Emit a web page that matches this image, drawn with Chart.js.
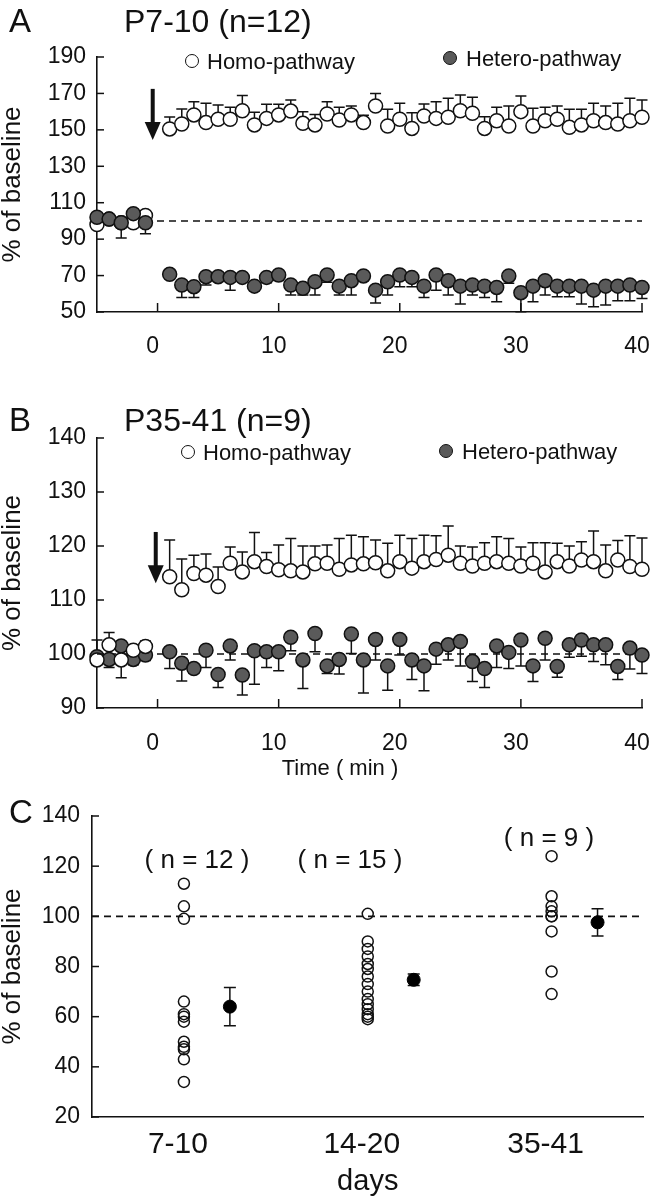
<!DOCTYPE html>
<html><head><meta charset="utf-8">
<script src="https://cdn.jsdelivr.net/npm/chart.js@4.4.1/dist/chart.umd.min.js"></script>
<style>
html,body{margin:0;padding:0;background:#fff;}
#wrap{position:relative;width:651px;height:1199px;overflow:hidden;font-family:'Liberation Sans',Arial,sans-serif;color:#111;background:#fff;}
canvas{position:absolute;left:0;}
.t{position:absolute;white-space:nowrap;line-height:1;transform:translateY(-50%);}
.tc{position:absolute;white-space:nowrap;line-height:1;transform:translate(-50%,-50%);}
.dot{position:absolute;width:12px;height:12px;border-radius:50%;border:1.5px solid #111;transform:translate(-50%,-50%);background:#fff;}
.dot.f{background:#5a5a5a;}
</style></head><body>
<div id="wrap">
<canvas id="cA" style="top:0" width="651" height="370"></canvas>
<canvas id="cB" style="top:380px" width="651" height="410"></canvas>
<canvas id="cC" style="top:790px" width="651" height="409"></canvas>

<div class="t" style="left:9px;top:20px;font-size:33px">A</div>
<div class="t" style="left:124px;top:21px;font-size:32px">P7-10 (n=12)</div>
<div class="dot" style="left:192px;top:61px"></div>
<div class="t" style="left:207px;top:62px;font-size:22px">Homo-pathway</div>
<div class="dot f" style="left:450px;top:58px"></div>
<div class="t" style="left:466px;top:59px;font-size:22px">Hetero-pathway</div>

<div class="t" style="left:9px;top:419px;font-size:33px">B</div>
<div class="t" style="left:124px;top:420px;font-size:32px">P35-41 (n=9)</div>
<div class="dot" style="left:188px;top:452px"></div>
<div class="t" style="left:203px;top:453px;font-size:22px">Homo-pathway</div>
<div class="dot f" style="left:446px;top:451px"></div>
<div class="t" style="left:462px;top:452px;font-size:22px">Hetero-pathway</div>
<div class="tc" style="left:340px;top:768px;font-size:22px">Time ( min )</div>

<div class="t" style="left:9px;top:811px;font-size:33px">C</div>
<div class="tc" style="left:197px;top:859px;font-size:26px">( n = 12 )</div>
<div class="tc" style="left:350px;top:859px;font-size:26px">( n = 15 )</div>
<div class="tc" style="left:549px;top:837px;font-size:26px">( n = 9 )</div>
</div>

<script>
// ---------------- DATA ----------------
// Panel A (P7-10, n=12): time points (min) and % of baseline
const minutesA = [-5,-4,-3,-2,-1,1,2,3,4,5,6,7,8,9,10,11,12,13,14,15,16,17,18,19,20,21,22,23,24,25,26,27,28,29,30,31,32,33,34,35,36,37,38,39,40];
const homoA = [98,101,99,99,103,
  150.5,153.2,158.2,154,155.8,155.8,160.5,152.7,156.3,158.2,160.3,153.6,152.7,158.7,155.4,158.2,154,163.1,152.1,155.8,
  150.8,157.6,156.3,156.9,160.5,159.1,150.8,155,152.1,160,152.1,155,155.8,151.4,152.7,155,154,153.2,155,156.9];
const homoA_sem = [1.5,2,2,1.5,1.5,
  6.5,8.2,7.2,10.6,7.8,6.6,8.3,6.9,7.7,5.8,6.1,6.4,5.8,6.8,7,4.9,4,6.9,9.2,8.8,
  8.6,6.6,9.2,10.4,8.6,8.8,6.4,7.4,11,8.6,9.7,7.4,7.3,9.9,8.6,9.6,9.1,11.4,12.3,9.5];
const heteroA = [102,101,99,104,99,
  70.7,64.8,63.9,69.4,69.4,69,69,64.2,69,70.3,64.8,63,66.6,70.3,64.2,67.2,69.8,62,66.6,70.3,
  69,64.2,70.3,67.2,64.2,64.8,64.2,63.5,69.8,60.6,64.2,67.2,64.2,64.2,64.2,62,64.2,64.2,64.8,63.5];
const heteroA_sem = [2,2,8.4,2,6,
  2,6.8,5.9,4.6,2,7,2,2.5,3,3,5.5,3.7,7.3,4,4.9,7.9,2.5,7,7.3,6.4,
  5.1,6.2,8.3,7.9,9.8,5.5,6.2,7.9,4,10.5,8.6,7.9,5.8,5.8,9.8,9.1,10.4,8,8.6,6.1];
const xTicksA = [0,10,20,30,40];
const yTicksA = [50,70,90,110,130,150,170,190];

// Panel B (P35-41, n=9)
const minutesB = [-5,-4,-3,-2,-1,1,2,3,4,5,6,7,8,9,10,11,12,13,14,15,16,17,18,19,20,21,22,23,24,25,26,27,28,29,30,31,32,33,34,35,36,37,38,39,40];
const homoB = [98.9,101.7,98.9,100.7,101.4,
  114.3,111.9,114.9,114.6,112.5,116.8,115.2,117.1,116.2,115.6,115.4,115.2,116.7,116.8,115.7,116.5,116.7,116.9,115.4,117.1,
  115.9,117.1,117.5,118.3,116.8,116.3,116.8,117.1,116.8,116.3,116.8,115.2,117.1,116.3,117.4,117.1,115.4,117.4,116.2,115.7];
const homoB_sem = [3.7,2.3,1,1,1,
  6.8,5.7,3.4,3.9,3.6,3,3.7,5.4,2.6,4.6,6,4.8,3.3,3.4,5.7,5.5,5,4.2,5.1,4.9,
  5.5,4.9,4.4,5.4,3.2,3.5,3.8,4.6,4.6,3.5,3.8,5.4,3.4,3.7,3.4,5.7,4.8,3.6,5.7,5.8];
const heteroB = [99.5,99,101.5,99,99.8,
  100.4,98.3,97.3,100.7,96.2,101.5,96.1,100.6,100.4,100.4,103.1,98.9,103.8,97.8,99,103.7,98.9,102.7,97.8,102.7,
  98.9,97.8,100.9,101.7,102.3,98.6,97.3,101.5,100.3,102.6,97.8,102.9,97.7,101.7,102.6,101.7,101.7,97.7,101.1,99.8];
const heteroB_sem = [1.5,1.5,5.9,1,1,
  3.1,3.3,0.8,3.2,2.4,2.6,3.7,6.2,2.9,3.5,2.5,5.3,3.4,1.4,2.7,3.6,6.1,3.8,4.5,2.9,
  3.6,4.6,2.8,2.8,4.5,3.7,3.5,4,3,4.8,2.9,4,2,2.3,3,3.1,3.7,2.4,3.9,3.4];
const xTicksB = [0,10,20,30,40];
const yTicksB = [90,100,110,120,130,140];

// Panel C: individual cells and mean +/- SEM per age group
const groups = ['7-10','14-20','35-41'];
const cells7_10  = [113,104,99,66,61,60,58,50,48,47,43,34];
const cells14_20 = [101,90,87,84,81,79,76,73,70,67,65,63,61,60,59];
const cells35_41 = [124,108,104,102,100,100,94,78,69];
const groupMeans = [64,74.7,97.6];
const groupSems  = [7.6,2.3,5.4];
const yTicksC = [20,40,60,80,100,120,140];

// ---------------- RENDERING ----------------
const FONT = "'Liberation Sans', Arial, sans-serif";
const INK = '#111';
const HETERO_FILL = '#5a5a5a';

Chart.register({
  id: 'errorBars',
  defaults: { sets: [] },
  beforeDatasetsDraw(chart, args, opts) {
    const {ctx, scales: {x, y}} = chart;
    ctx.save();
    ctx.strokeStyle = INK; ctx.lineWidth = 1.5;
    (opts.sets || []).forEach(s => {
      s.xs.forEach((xv, i) => {
        const px = x.getPixelForValue(xv);
        const ends = s.dir === 0 ? [1, -1] : [s.dir];
        ends.forEach(d => {
          const py0 = y.getPixelForValue(s.ys[i]);
          const py1 = y.getPixelForValue(s.ys[i] + d * s.err[i]);
          ctx.beginPath();
          ctx.moveTo(px, py0); ctx.lineTo(px, py1);
          ctx.moveTo(px - s.cap / 2, py1); ctx.lineTo(px + s.cap / 2, py1);
          ctx.stroke();
        });
      });
    });
    ctx.restore();
  }
});

Chart.register({
  id: 'innerTicks',
  defaults: { x: false, y: false, len: 7 },
  afterDraw(chart, args, opts) {
    const {ctx, chartArea: ca, scales: {x, y}} = chart;
    ctx.save();
    ctx.strokeStyle = INK; ctx.lineWidth = 1.5;
    if (opts.y) y.ticks.forEach(t => {
      const py = y.getPixelForValue(t.value);
      ctx.beginPath(); ctx.moveTo(ca.left, py); ctx.lineTo(ca.left + opts.len, py); ctx.stroke();
    });
    if (opts.x) x.ticks.forEach(t => {
      const px = x.getPixelForValue(t.value);
      ctx.beginPath(); ctx.moveTo(px, ca.bottom); ctx.lineTo(px, ca.bottom - opts.len - 2); ctx.stroke();
    });
    ctx.restore();
  }
});

Chart.register({
  id: 'arrow',
  defaults: { on: false },
  afterDatasetsDraw(chart, args, opts) {
    if (!opts.on) return;
    const {ctx, scales: {x, y}} = chart;
    const px = x.getPixelForValue(opts.x);
    const yTop = y.getPixelForValue(opts.from);
    const yTip = y.getPixelForValue(opts.to);
    ctx.save();
    ctx.fillStyle = INK; ctx.strokeStyle = INK;
    ctx.lineWidth = 4;
    ctx.beginPath(); ctx.moveTo(px, yTop); ctx.lineTo(px, yTip - 14); ctx.stroke();
    ctx.beginPath();
    ctx.moveTo(px - 8, yTip - 18); ctx.lineTo(px + 8, yTip - 18); ctx.lineTo(px, yTip); ctx.closePath();
    ctx.fill();
    ctx.restore();
  }
});

function pts(xs, ys) { return xs.map((v, i) => ({x: v, y: ys[i]})); }

function dashed(x0, x1) {
  return {type: 'line', data: [{x: x0, y: 100}, {x: x1, y: 100}], borderColor: INK, borderWidth: 1.6,
          borderDash: [7, 5], pointRadius: 0, fill: false, clip: false};
}

function build(id, cfg) {
  const cv = document.getElementById(id);
  const W = cv.width, H = cv.height;
  return new Chart(cv, {
    type: 'scatter',
    data: {datasets: cfg.datasets},
    options: {
      responsive: false, animation: false, devicePixelRatio: 1,
      layout: {padding: {top: cfg.ca.top, right: W - cfg.ca.right, left: 0, bottom: 0}},
      plugins: {
        legend: {display: false}, tooltip: {enabled: false},
        errorBars: {sets: cfg.errors},
        innerTicks: {x: cfg.xTickMarks, y: true, len: 7},
        arrow: cfg.arrow || {on: false}
      },
      scales: {
        x: {
          type: 'linear', min: cfg.xMin, max: cfg.xMax,
          grid: {display: false, drawTicks: false},
          border: {display: true, color: INK, width: 1.6},
          ticks: {font: {family: FONT, size: cfg.xFont}, color: INK, padding: cfg.xPad, maxRotation: 0, autoSkip: false,
                   labelOffset: cfg.xLabelOffset, callback: cfg.xLabel || (v => v)},
          afterBuildTicks: s => { s.ticks = cfg.xTicks.map(v => ({value: v})); },
          afterFit: s => { s.height = H - cfg.ca.bottom; s.paddingLeft = 0; s.paddingRight = 0; },
          title: cfg.xTitle ? {display: true, text: cfg.xTitle, color: INK, padding: 0,
                               font: {family: FONT, size: 29, lineHeight: 1.2}} : {display: false}
        },
        y: {
          min: cfg.yMin, max: cfg.yMax,
          grid: {display: false, drawTicks: false},
          border: {display: true, color: INK, width: 1.6},
          ticks: {font: {family: FONT, size: 23}, color: INK, padding: cfg.yPad},
          afterBuildTicks: s => { s.ticks = cfg.yTicks.map(v => ({value: v})); },
          afterFit: s => { s.width = cfg.ca.left; s.paddingTop = 0; s.paddingBottom = 0; },
          title: {display: true, text: '% of baseline', color: INK, padding: 0,
                  font: {family: FONT, size: 26, lineHeight: 1.0}}
        }
      }
    }
  });
}

const openStyle = {pointRadius: 7, pointBorderWidth: 1.5, pointBorderColor: INK, pointBackgroundColor: '#fff', clip: false};
const fillStyle = {pointRadius: 7, pointBorderWidth: 1.5, pointBorderColor: INK, pointBackgroundColor: HETERO_FILL, clip: false};

// Panel A
build('cA', {
  ca: {left: 97, right: 642, top: 57, bottom: 312},
  xMin: -5, xMax: 40, yMin: 50, yMax: 190, xTicks: xTicksA, yTicks: yTicksA,
  xFont: 23, xPad: 21, yPad: 11, xTickMarks: true, xLabelOffset: -5,
  datasets: [
    Object.assign({label: 'Hetero-pathway', data: pts(minutesA, heteroA)}, fillStyle),
    Object.assign({label: 'Homo-pathway', data: pts(minutesA, homoA)}, openStyle),
    dashed(-5, 40)
  ],
  errors: [
    {xs: minutesA, ys: homoA, err: homoA_sem, dir: 1, cap: 11},
    {xs: minutesA, ys: heteroA, err: heteroA_sem, dir: -1, cap: 11}
  ],
  arrow: {on: true, x: -0.4, from: 172.5, to: 144.5}
});

// Panel B
build('cB', {
  ca: {left: 97, right: 642, top: 58, bottom: 328},
  xMin: -5, xMax: 40, yMin: 90, yMax: 140, xTicks: xTicksB, yTicks: yTicksB,
  xFont: 23, xPad: 22, yPad: 11, xTickMarks: true, xLabelOffset: -5,
  datasets: [
    Object.assign({label: 'Homo-pathway', data: pts(minutesB, homoB)}, openStyle),
    Object.assign({label: 'Hetero-pathway', data: pts(minutesB, heteroB)}, fillStyle),
    dashed(-5, 40)
  ],
  errors: [
    {xs: minutesB, ys: homoB, err: homoB_sem, dir: 1, cap: 11},
    {xs: minutesB, ys: heteroB, err: heteroB_sem, dir: -1, cap: 11}
  ],
  arrow: {on: true, x: -0.15, from: 122.6, to: 113.1}
});

// Panel C
const cellSets = [cells7_10, cells14_20, cells35_41];
const cellXs = cellSets.map((arr, g) => arr.map(() => g + 0.5));
const meanXs = groups.map((_, g) => g + 0.75);
build('cC', {
  ca: {left: 92, right: 645, top: 26, bottom: 327},
  xMin: 0, xMax: 3, yMin: 20, yMax: 140, xTicks: [0.5, 1.5, 2.5], yTicks: yTicksC,
  xLabel: (v, i) => groups[i], xTitle: 'days',
  xFont: 30, xPad: 10, yPad: 12, xTickMarks: false, xLabelOffset: -6,
  datasets: [
    {label: 'Mean', data: pts(meanXs, groupMeans), pointRadius: 6.5, pointBorderWidth: 1, pointBorderColor: '#000',
     pointBackgroundColor: '#000', clip: false},
    ...cellSets.map((arr, g) => Object.assign({label: groups[g], data: pts(cellXs[g], arr)},
      {pointRadius: 5.5, pointBorderWidth: 1.5, pointBorderColor: INK, pointBackgroundColor: 'rgba(255,255,255,0)', clip: false})),
    dashed(0, 3)
  ],
  errors: [
    {xs: meanXs, ys: groupMeans, err: groupSems, dir: 0, cap: 12}
  ]
});
</script>
</body></html>
